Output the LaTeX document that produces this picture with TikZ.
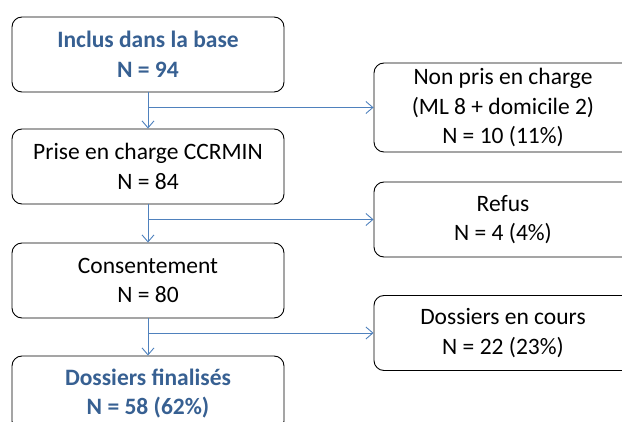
\documentclass[tikz,border=0pt]{standalone}
\usepackage{fontspec}
\setmainfont{Carlito}
\usetikzlibrary{arrows.meta}
\definecolor{Title}{HTML}{376092}
\definecolor{Flow}{HTML}{4F81BD}
\tikzset{
    box/.style={draw, line width=0.9pt, rounded corners=10pt, align=center, inner sep=0pt,
        font=\fontsize{23.5}{29.5}\selectfont},
    flow/.style={draw=Flow, line width=0.9pt, -{Straight Barb[length=7pt,width=12pt]}}
}

\begin{document}
\begin{tikzpicture}[x=1pt,y=-1pt]
        % Define the dimensions of the boxes
        \def\leftwidth{272}
        \def\rightwidth{258}
        \def\boxheight{75}

        \useasboundingbox (0,0) rectangle (622,422);
        \clip (0,0) rectangle (622,422);

        % Main column
        \node[box, minimum width=\leftwidth, minimum height=\boxheight, text=Title] (incl) at (148,54.5) {\textbf{Inclus dans la base}\\\textbf{N = 94}};
        \node[box, minimum width=\leftwidth, minimum height=\boxheight] (prise) at (148,166.5) {Prise en charge CCRMIN\\N = 84};
        \node[box, minimum width=\leftwidth, minimum height=\boxheight] (cons) at (148,280.5) {Consentement\\N = 80};
        \node[box, minimum width=\leftwidth, minimum height=\boxheight, text=Title] (final) at (148,393.5) {\textbf{Dossiers finalisés}\\\textbf{N = 58 (62\%)}};

        % Side column
        \node[box, minimum width=\rightwidth, minimum height=89] (nonpris) at (503,107.5) {Non pris en charge\\(ML 8 + domicile 2)\\N = 10 (11\%)};
        \node[box, minimum width=\rightwidth, minimum height=\boxheight] (refus) at (503,219.5) {Refus\\N = 4 (4\%)};
        \node[box, minimum width=\rightwidth, minimum height=\boxheight] (cours) at (503,333) {Dossiers en cours\\N = 22 (23\%)};

        % Branch points
        \coordinate (b1) at (incl.south |- nonpris.west);
        \coordinate (b2) at (prise.south |- refus.west);
        \coordinate (b3) at (cons.south |- cours.west);

        % Arrows
        \draw[flow] (incl.south) -- (prise.north);
        \draw[flow] (prise.south) -- (cons.north);
        \draw[flow] (cons.south) -- (final.north);
        \draw[flow] (b1) -- (nonpris.west);
        \draw[flow] (b2) -- (refus.west);
        \draw[flow] (b3) -- (cours.west);
\end{tikzpicture}
\end{document}
